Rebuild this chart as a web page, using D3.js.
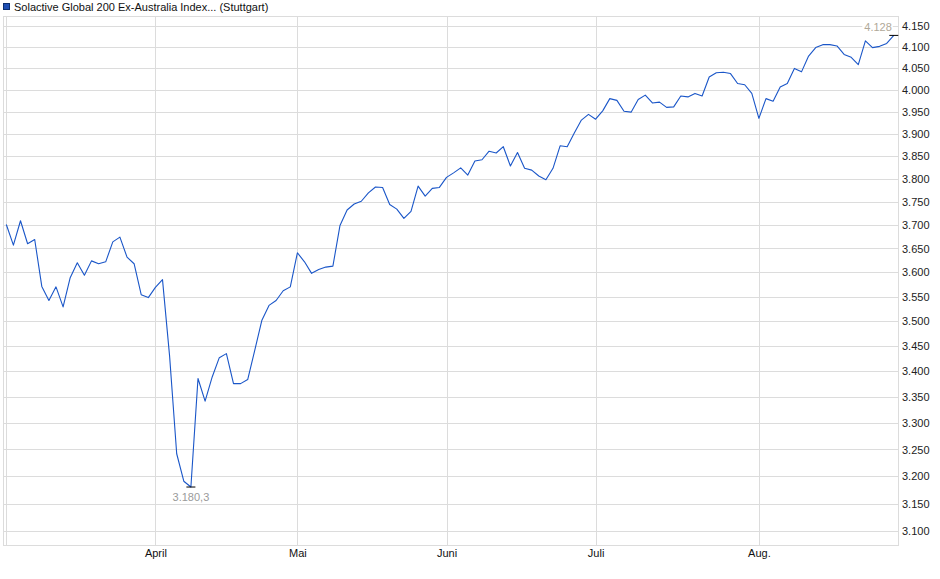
<!DOCTYPE html>
<html>
<head>
<meta charset="utf-8">
<script src="https://cdn.jsdelivr.net/npm/d3@7"></script>
<style>
  html, body { margin: 0; padding: 0; background: #fff; }
  svg { display: block; font-family: "Liberation Sans", Arial, sans-serif; }
</style>
</head>
<body>
<svg id="chart" width="940" height="579"></svg>
<script>
// ---- data ----
const title = "Solactive Global 200 Ex-Australia Index... (Stuttgart)";
// daily closes, 3 Mar 2025 (index 0) … end Aug 2025
const values = [
  3701, 3657, 3709, 3660, 3669, 3571, 3542, 3570, 3529, 3589,
  3620, 3594, 3624, 3618, 3622, 3664, 3674, 3632, 3618, 3554,
  3548, 3569, 3585, 3430, 3242, 3191, 3180.3, 3386, 3342, 3389,
  3427, 3435, 3376, 3376, 3384, 3442, 3502, 3532, 3542, 3562,
  3570, 3641, 3622, 3598, 3606, 3611, 3613, 3699, 3732, 3745,
  3751, 3769, 3782, 3781, 3744, 3734, 3714, 3729, 3784, 3762,
  3779, 3781, 3803, 3813, 3824, 3808, 3839, 3842, 3861, 3857,
  3871, 3828, 3858, 3823, 3819, 3806, 3798, 3823, 3873, 3871,
  3902, 3931, 3944, 3933, 3952, 3980, 3976, 3951, 3949, 3978,
  3988, 3970, 3972, 3960, 3961, 3986, 3984, 3992, 3986, 4030,
  4040, 4041, 4038, 4015, 4012, 3992, 3935, 3980, 3974, 4007,
  4015, 4050, 4042, 4079, 4099, 4106, 4106, 4103, 4083, 4076,
  4059, 4115, 4099, 4102, 4109, 4128
];
// first trading day of each month (index into values)
const monthLabels = ["", "April", "Mai", "Juni", "Juli", "Aug."];
const monthIndex  = [0, 21, 41, 62, 83, 106];
const yTicks = [3100, 3150, 3200, 3250, 3300, 3350, 3400, 3450, 3500, 3550,
                3600, 3650, 3700, 3750, 3800, 3850, 3900, 3950, 4000, 4050,
                4100, 4150];

// ---- layout ----
const plot = { left: 3, right: 898, top: 16, bottom: 545.5 };
const svg = d3.select("#chart");
const de = d3.formatLocale({ decimal: ",", thousands: ".", grouping: [3], currency: ["", "€"] });
const fmt0 = de.format(",.0f");
const fmt1 = de.format(",.1f");

const x = d3.scaleLinear().domain([0, values.length - 1]).range([6.3, 893.8]);
const y = d3.scaleLog().domain([3100, 4150]).range([531.3, 26.2]);

const gridColor = "#dcdcdc";

// horizontal grid + right axis
const yAxis = d3.axisRight(y).tickValues(yTicks).tickFormat(fmt0)
  .tickSize(-(plot.right - plot.left)).tickPadding(4);
const gy = svg.append("g").attr("transform", `translate(${plot.right},0)`).call(yAxis);
gy.select(".domain").remove();
gy.selectAll(".tick line").attr("stroke", gridColor).attr("shape-rendering", "crispEdges");
gy.selectAll(".tick text").attr("fill", "#222").attr("font-size", "11px")
  .attr("font-family", "Liberation Sans, Arial, sans-serif");

// vertical month grid + bottom labels
const xAxis = d3.axisBottom(x).tickValues(monthIndex)
  .tickFormat((d, i) => monthLabels[i])
  .tickSize(-(plot.bottom - plot.top)).tickPadding(4);
const gx = svg.append("g").attr("transform", `translate(0,${plot.bottom})`).call(xAxis);
gx.select(".domain").remove();
gx.selectAll(".tick line").attr("stroke", gridColor).attr("shape-rendering", "crispEdges");
gx.selectAll(".tick text").attr("fill", "#111").attr("font-size", "11px")
  .attr("font-family", "Liberation Sans, Arial, sans-serif");

// plot frame
svg.append("rect")
  .attr("x", plot.left).attr("y", plot.top)
  .attr("width", plot.right - plot.left).attr("height", plot.bottom - plot.top)
  .attr("fill", "none").attr("stroke", gridColor).attr("shape-rendering", "crispEdges");

// line
const line = d3.line().x((d, i) => x(i)).y(d => y(d));
svg.append("path").datum(values)
  .attr("d", line).attr("fill", "none")
  .attr("stroke", "#1a56c8").attr("stroke-width", 1.1)
  .attr("stroke-linejoin", "round");

// min / max markers
const iMin = d3.minIndex(values), iMax = d3.maxIndex(values);
function marker(i) {
  svg.append("line")
    .attr("x1", x(i) - 4.5).attr("x2", x(i) + 4.5)
    .attr("y1", y(values[i])).attr("y2", y(values[i]))
    .attr("stroke", "#000").attr("stroke-width", 1);
}
marker(iMin); marker(iMax);

svg.append("text")
  .attr("x", x(iMin)).attr("y", y(values[iMin]) + 14)
  .attr("text-anchor", "middle").attr("font-size", "11px").attr("fill", "#9a9a9a")
  .text(fmt1(values[iMin]));

const maxLbl = svg.append("text")
  .attr("x", x(iMax) - 2).attr("y", y(values[iMax]) - 4.5)
  .attr("text-anchor", "end").attr("font-size", "11px").attr("fill", "#b0a898")
  .text(fmt0(values[iMax]));
const bb = maxLbl.node().getBBox();
svg.append("rect")
  .attr("x", bb.x - 2).attr("y", bb.y).attr("width", bb.width + 3).attr("height", bb.height)
  .attr("fill", "#fff");
maxLbl.raise();

// legend/title
svg.append("rect").attr("x", 3.5).attr("y", 3.5).attr("width", 6).attr("height", 6)
  .attr("fill", "#1f4fb4").attr("stroke", "#0d2f70").attr("stroke-width", 1);
svg.append("text").attr("x", 14).attr("y", 10.5)
  .attr("font-size", "11px").attr("fill", "#111").text(title);
</script>
</body>
</html>
